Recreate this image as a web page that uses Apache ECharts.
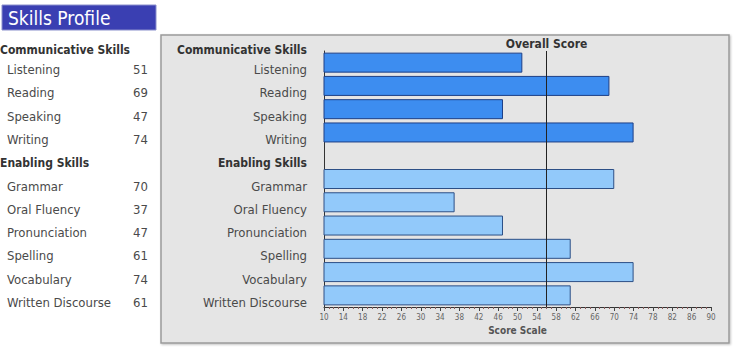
<!DOCTYPE html>
<html>
<head>
<meta charset="utf-8">
<script src="https://cdn.jsdelivr.net/npm/echarts@6/dist/echarts.min.js"></script>
<style>
  html, body { margin: 0; padding: 0; background: #ffffff; }
  #chart { width: 736px; height: 356px; }
</style>
</head>
<body>
<div id="chart"></div>
<script>
// ---- data ----
const groupNames = ['Communicative Skills', 'Enabling Skills'];
const commSkills = ['Listening', 'Reading', 'Speaking', 'Writing'];
const commScores = [51, 69, 47, 74];
const enabSkills = ['Grammar', 'Oral Fluency', 'Pronunciation', 'Spelling', 'Vocabulary', 'Written Discourse'];
const enabScores = [70, 37, 47, 61, 74, 61];
const overallScore = 56;
const scaleTicks = [10, 14, 18, 22, 26, 30, 34, 38, 42, 46, 50, 54, 58, 62, 66, 70, 74, 78, 82, 86, 90];
const titleText = 'Skills Profile';
const axisTitle = 'Score Scale';
const overallLabel = 'Overall Score';

// ---- build ----
const FONT = '"DejaVu Sans Condensed", "DejaVu Sans", sans-serif';
const rows = [...commSkills, groupNames[1], ...enabSkills];
const rowValues = [...commScores, null, ...enabScores];
const rowGroup = [...commSkills.map(() => 0), -1, ...enabSkills.map(() => 1)];
const axisRows = rows.slice().reverse();

const fills = ['#3d8df0', '#92c9fa'];
const borders = ['#1d3f86', '#2c4f86'];

const barData = rows.map((r, i) => {
  if (rowValues[i] == null) return '-';
  const g = rowGroup[i];
  return { value: rowValues[i], itemStyle: { color: fills[g], borderColor: borders[g], borderWidth: 1 } };
}).reverse();

const valueOf = {};
rows.forEach((r, i) => { valueOf[r] = rowValues[i]; });

const chart = echarts.init(document.getElementById('chart'), null, { renderer: 'svg' });

const labelPad = [14, 0, 0, 0];
const TXT = '#4a4a4a';
const HDR = '#333333';

chart.setOption({
  animation: false,
  backgroundColor: '#ffffff',
  textStyle: { fontFamily: FONT },
  grid: { left: 324, right: 25, top: 51, bottom: 49, containLabel: false, outerBoundsMode: 'none' },
  xAxis: {
    type: 'value',
    min: scaleTicks[0],
    max: scaleTicks[scaleTicks.length - 1],
    interval: scaleTicks[1] - scaleTicks[0],
    name: axisTitle,
    nameLocation: 'middle',
    nameGap: 15,
    nameTextStyle: { fontFamily: FONT, fontSize: 10, fontWeight: 'bold', color: '#555' },
    axisLine: { show: true, lineStyle: { color: '#333', width: 1 } },
    axisTick: { show: true, length: 4, lineStyle: { color: '#444' } },
    minorTick: { show: true, splitNumber: 4, length: 2, lineStyle: { color: '#8a5a5a' } },
    splitLine: { show: false },
    axisLabel: { fontFamily: FONT, fontSize: 8, color: '#666', margin: 6 }
  },
  yAxis: [
    {
      type: 'category',
      data: axisRows,
      name: groupNames[0],
      nameLocation: 'end',
      nameGap: 1,
      nameTextStyle: { fontFamily: FONT, fontSize: 12, fontWeight: 'bold', color: HDR, align: 'right', verticalAlign: 'middle', padding: [0, 17, 0, 0] },
      axisLine: { show: true, lineStyle: { color: '#333', width: 1 } },
      axisTick: { show: false },
      splitLine: { show: false },
      axisLabel: {
        interval: 0,
        margin: 17,
        padding: labelPad,
        fontFamily: FONT,
        fontSize: 13,
        color: TXT,
        formatter: v => v === groupNames[1] ? '{h|' + v + '}' : v,
        rich: { h: { fontFamily: FONT, fontSize: 12, fontWeight: 'bold', color: HDR } }
      }
    },
    {
      type: 'category',
      data: axisRows,
      position: 'left',
      offset: 324,
      name: groupNames[0],
      nameLocation: 'end',
      nameGap: 1,
      nameTextStyle: { fontFamily: FONT, fontSize: 12, fontWeight: 'bold', color: HDR, align: 'left', verticalAlign: 'middle' },
      axisLine: { show: false },
      axisTick: { show: false },
      splitLine: { show: false },
      axisLabel: {
        interval: 0,
        margin: 0,
        align: 'left',
        padding: labelPad,
        fontFamily: FONT,
        fontSize: 13,
        color: TXT,
        formatter: v => v === groupNames[1] ? '{h|' + v + '}' : '{i|' + v + '}',
        rich: {
          h: { fontFamily: FONT, fontSize: 12, fontWeight: 'bold', color: HDR },
          i: { fontFamily: FONT, fontSize: 13, color: TXT, padding: [0, 0, 0, 7] }
        }
      }
    },
    {
      type: 'category',
      data: axisRows,
      position: 'left',
      offset: 176,
      axisLine: { show: false },
      axisTick: { show: false },
      splitLine: { show: false },
      axisLabel: {
        interval: 0,
        margin: 0,
        align: 'right',
        padding: labelPad,
        fontFamily: FONT,
        fontSize: 13,
        color: TXT,
        formatter: v => (valueOf[v] == null ? '' : '{v|' + valueOf[v] + '}'),
        rich: { v: { fontFamily: FONT, fontSize: 13, color: TXT } }
      }
    }
  ],
  graphic: {
    elements: [
      {
        type: 'rect', z: -10,
        shape: { x: 161, y: 35, width: 568, height: 308 },
        style: { fill: '#e5e5e5', stroke: '#9a9a9a', lineWidth: 1.5, shadowBlur: 2, shadowOffsetX: 1, shadowOffsetY: 1, shadowColor: 'rgba(0,0,0,0.25)' }
      },
      {
        type: 'rect', z: -10,
        shape: { x: 2, y: 5, width: 154, height: 25 },
        style: { fill: '#3a3fb2', stroke: '#8a8fcc', lineWidth: 1 }
      },
      {
        type: 'text', z: 10,
        x: 8, y: 18,
        style: { text: titleText, fill: '#ffffff', fontFamily: FONT, fontSize: 19, verticalAlign: 'middle', align: 'left' }
      }
    ]
  },
  series: [
    {
      type: 'bar',
      data: barData,
      barWidth: 20,
      xAxisIndex: 0,
      yAxisIndex: 0,
      markLine: {
        silent: true,
        symbol: 'none',
        animation: false,
        lineStyle: { color: '#222', width: 1, type: 'solid' },
        label: {
          show: true,
          position: 'end',
          distance: 1,
          formatter: overallLabel,
          fontFamily: FONT,
          fontSize: 12,
          fontWeight: 'bold',
          color: '#333'
        },
        data: [{ xAxis: overallScore }]
      }
    }
  ]
});
</script>
</body>
</html>
